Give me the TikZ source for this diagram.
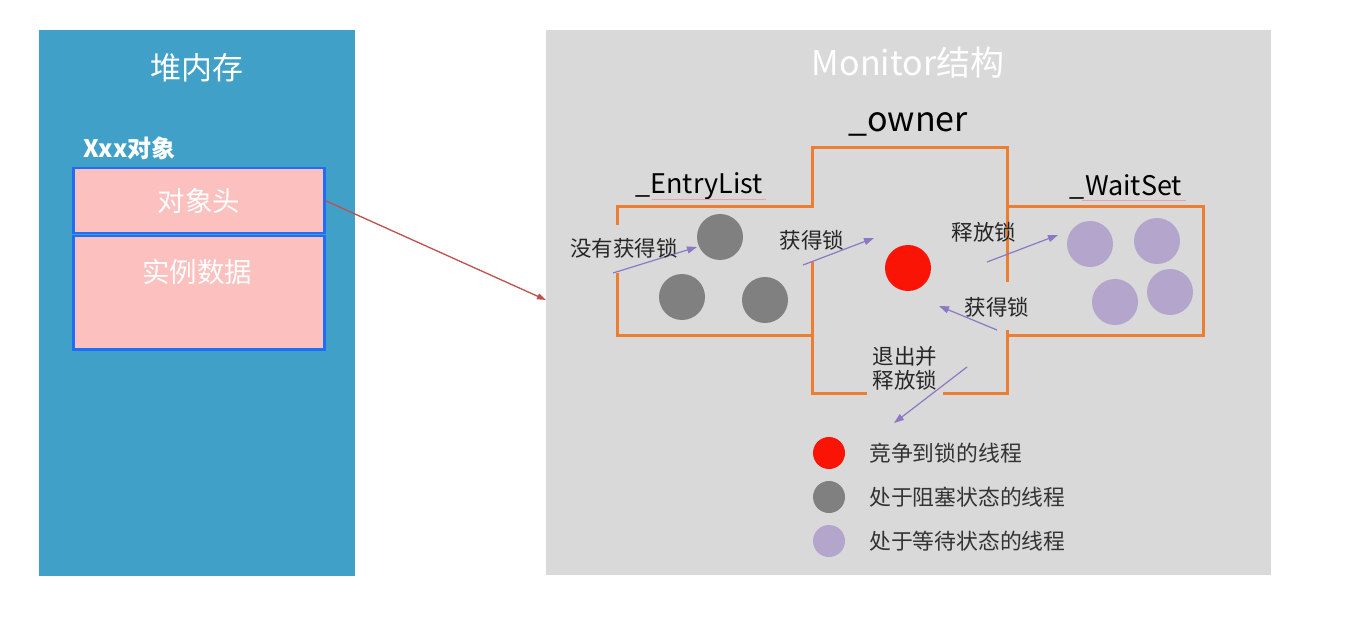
\documentclass[tikz,border=0pt]{standalone}
\usepackage{fontspec}
\setmainfont{Noto Sans CJK SC}
\usetikzlibrary{arrows.meta}
\definecolor{heapblue}{RGB}{64,160,200}
\definecolor{pinkfill}{RGB}{252,192,190}
\definecolor{borderblue}{RGB}{30,110,250}
\definecolor{panelgray}{RGB}{217,217,217}
\definecolor{orangeline}{RGB}{237,125,49}
\definecolor{threadgray}{RGB}{128,128,128}
\definecolor{threadred}{RGB}{250,20,5}
\definecolor{threadpurple}{RGB}{180,165,205}
\definecolor{arrowpurple}{RGB}{140,120,195}
\definecolor{arrowred}{RGB}{192,80,77}
\definecolor{squiggle}{RGB}{235,160,175}
\tikzset{
  lbl/.style={font=\fontsize{21.5}{24}\selectfont, text=black!85, inner sep=0pt},
  legend/.style={font=\fontsize{21.8}{24}\selectfont, text=black!80, anchor=west, inner sep=0pt},
  thread/.style={circle, minimum size=46pt, inner sep=0pt},
  lthread/.style={circle, minimum size=32pt, inner sep=0pt},
  parrow/.style={draw=arrowpurple, line width=1.2pt, -{Triangle[length=10pt,width=7pt]}},
  boundary/.style={draw=orangeline, line width=3pt},
  field/.style={fill=pinkfill, draw=borderblue, line width=2.5pt},
  fieldtext/.style={text=white, font=\fontsize{27.5}{30}\selectfont, inner sep=0pt},
}
\begin{document}
\begin{tikzpicture}[x=1pt,y=-1pt]
\useasboundingbox (0,0) rectangle (1348,617);
\fill[white] (0,0) rectangle (1348,617);
% heap
\node[fill=heapblue, minimum width=316pt, minimum height=546pt, inner sep=0pt, anchor=north west] (heap) at (39,30) {};
\node[text=white, font=\fontsize{31}{34}\selectfont, inner sep=0pt] (heaptitle) at (197,68) {堆内存};
\node[text=white, font=\fontsize{24}{26}\selectfont\bfseries, anchor=west, inner sep=0pt] (objlabel) at (83,148) {Xxx对象};
\node[field, minimum width=251pt, minimum height=65pt, anchor=north west, inner sep=0pt] (header) at (72,167) {};
\node[fieldtext] (headertext) at (header.center) {对象头};
\node[field, minimum width=251pt, minimum height=113pt, anchor=north west, inner sep=0pt] (data) at (72,235) {};
\node[fieldtext] (datatext) at (197,272) {实例数据};
% monitor panel
\node[fill=panelgray, minimum width=725pt, minimum height=545pt, inner sep=0pt, anchor=north west] (panel) at (546,30) {};
\node[text=white, font=\fontsize{34}{38}\selectfont, inner sep=0pt] (montitle) at (908,63) {Monitor结构};
\draw[arrowred, line width=1.3pt, -{Triangle[length=9pt,width=6pt]}] (header.east) -- (panel.west |- 0,300);
% boundary
\draw[boundary] (617,225) -- (617,207) -- (812,207) -- (812,148) -- (1007,148) -- (1007,282);
\draw[boundary] (1007,207) -- (1203,207) -- (1203,335) -- (1007,335);
\draw[boundary] (1007,330) -- (1007,393) -- (943,393);
\draw[boundary] (867,393) -- (812,393) -- (812,262);
\draw[boundary] (617,273) -- (617,335) -- (812,335);
% section labels
\node[font=\fontsize{34}{38}\selectfont, inner sep=0pt] (owner) at (908,124) {\_owner};
\node[font=\fontsize{27}{30}\selectfont, inner sep=0pt] (entry) at (699,186) {\_EntryList};
\draw[squiggle, line width=1pt] (652,200) -- (766,200);
\node[font=\fontsize{27}{30}\selectfont, inner sep=0pt] (wait) at (1126,187) {\_WaitSet};
\draw[squiggle, line width=1pt] (1082,201) -- (1186,201);
% threads
\node[thread, fill=threadgray] (g1) at (720,237) {};
\node[thread, fill=threadgray] (g2) at (682,297) {};
\node[thread, fill=threadgray] (g3) at (765,300) {};
\node[thread, fill=threadred] (r1) at (908,268) {};
\node[thread, fill=threadpurple] (p1) at (1090,244) {};
\node[thread, fill=threadpurple] (p2) at (1157,241) {};
\node[thread, fill=threadpurple] (p3) at (1115,302) {};
\node[thread, fill=threadpurple] (p4) at (1170,292) {};
% arrows and labels
\coordinate (a1s) at (613,273); \coordinate (a1e) at (697,247);
\draw[parrow] (a1s) -- (a1e);
\node[lbl] (t1) at (624,248) {没有获得锁};
\coordinate (a2s) at (803,265); \coordinate (a2e) at (874,238);
\draw[parrow] (a2s) -- (a2e);
\node[lbl] (t2) at (812,240) {获得锁};
\coordinate (a3s) at (987,262); \coordinate (a3e) at (1058,235);
\draw[parrow] (a3s) -- (a3e);
\node[lbl] (t3) at (984,232) {释放锁};
\coordinate (a4s) at (997,330); \coordinate (a4e) at (939,306);
\draw[parrow] (a4s) -- (a4e);
\node[lbl] (t4) at (997,307) {获得锁};
\coordinate (a5s) at (967,367); \coordinate (a5e) at (894,423);
\draw[parrow] (a5s) -- (a5e);
\node[lbl, align=center] (t5) at (905,368) {退出并\\释放锁};
% legend
\node[lthread, fill=threadred] (lr) at (829,453) {};
\node[legend] (lrt) at (869,453) {竞争到锁的线程};
\node[lthread, fill=threadgray] (lg) at (829,497) {};
\node[legend] (lgt) at (869,497) {处于阻塞状态的线程};
\node[lthread, fill=threadpurple] (lp) at (829,541) {};
\node[legend] (lpt) at (869,541) {处于等待状态的线程};
\end{tikzpicture}
\end{document}
